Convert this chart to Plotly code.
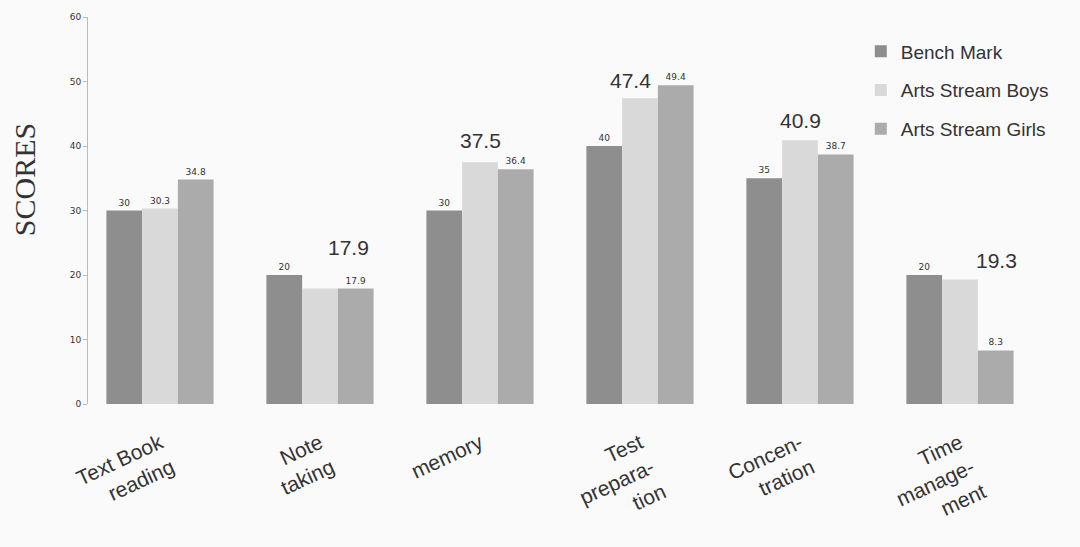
import plotly.graph_objects as go

categories = ["Text Book<br>reading", "Note<br>taking", "memory", "Test<br>prepara-<br>tion",
              "Concen-<br>tration", "Time<br>manage-<br>ment"]
bench_mark = [30, 20, 30, 40, 35, 20]
boys = [30.3, 17.9, 37.5, 47.4, 40.9, 19.3]
girls = [34.8, 17.9, 36.4, 49.4, 38.7, 8.3]
series_names = ["Bench Mark", "Arts Stream Boys", "Arts Stream Girls"]
y_ticks = [0, 10, 20, 30, 40, 50, 60]

colors = ["#8e8e8e", "#d9d9d9", "#ababab"]
small_font = dict(family="DejaVu Sans", size=9, color="#333")

fig = go.Figure()
fig.add_trace(go.Bar(name=series_names[0], x=categories, y=bench_mark, legendgroup="a",
                     marker=dict(color=colors[0], line=dict(width=0)),
                     text=[str(v) for v in bench_mark], textposition="outside",
                     textfont=small_font, cliponaxis=False))
# boys: small label only on first, large annotations on others
fig.add_trace(go.Bar(name=series_names[1], x=categories, y=boys, legendgroup="b",
                     marker=dict(color=colors[1], line=dict(width=0)),
                     text=[str(boys[0])] + [""] * (len(boys) - 1), textposition="outside",
                     textfont=small_font, cliponaxis=False))
fig.add_trace(go.Bar(name=series_names[2], x=categories, y=girls, legendgroup="c",
                     marker=dict(color=colors[2], line=dict(width=0)),
                     text=[str(v) for v in girls], textposition="outside",
                     textfont=small_font, cliponaxis=False))

shifts = [None, 28, 8, 4, 6, 6]
xshifts = [0, 28, 0, -10, 0, 36]
for i in range(1, len(categories)):
    fig.add_annotation(x=categories[i], y=boys[i], text=str(boys[i]), showarrow=False,
                       yshift=shifts[i], xshift=xshifts[i], yanchor="bottom",
                       font=dict(family="Liberation Sans, Arial", size=21, color="#333"))

fig.add_annotation(text="SCORES", textangle=-90, showarrow=False,
                   xref="paper", yref="paper", x=-0.066, y=0.58, xanchor="center", yanchor="middle",
                   font=dict(family="Liberation Serif, Times New Roman", size=30, color="#333"))

fig.update_layout(
    width=1080, height=547,
    margin=dict(l=88, r=32, t=15, b=140),
    paper_bgcolor="#fafafa", plot_bgcolor="#fafafa",
    barmode="group", bargap=0.33, bargroupgap=0,
    showlegend=True,
    legend=dict(x=0.805, y=0.96, xanchor="left", yanchor="top",
                font=dict(family="Liberation Sans, Arial", size=19, color="#333"),
                bgcolor="rgba(0,0,0,0)", tracegroupgap=11, itemwidth=30),
    font=dict(family="Liberation Sans, Arial", color="#333"),
)
fig.update_xaxes(tickangle=-25, tickfont=dict(family="Liberation Sans, Arial", size=21, color="#333"),
                 showline=False, showgrid=False, ticks="", range=[-0.45, 5.55],
                 ticklabelstandoff=22)
fig.update_yaxes(range=[0, 60], tickvals=y_ticks, showgrid=False, zeroline=False,
                 showline=True, linecolor="#bbb", linewidth=1, ticks="outside",
                 ticklen=4, tickcolor="#bbb", tickfont=small_font)

fig.write_html("out.html")
